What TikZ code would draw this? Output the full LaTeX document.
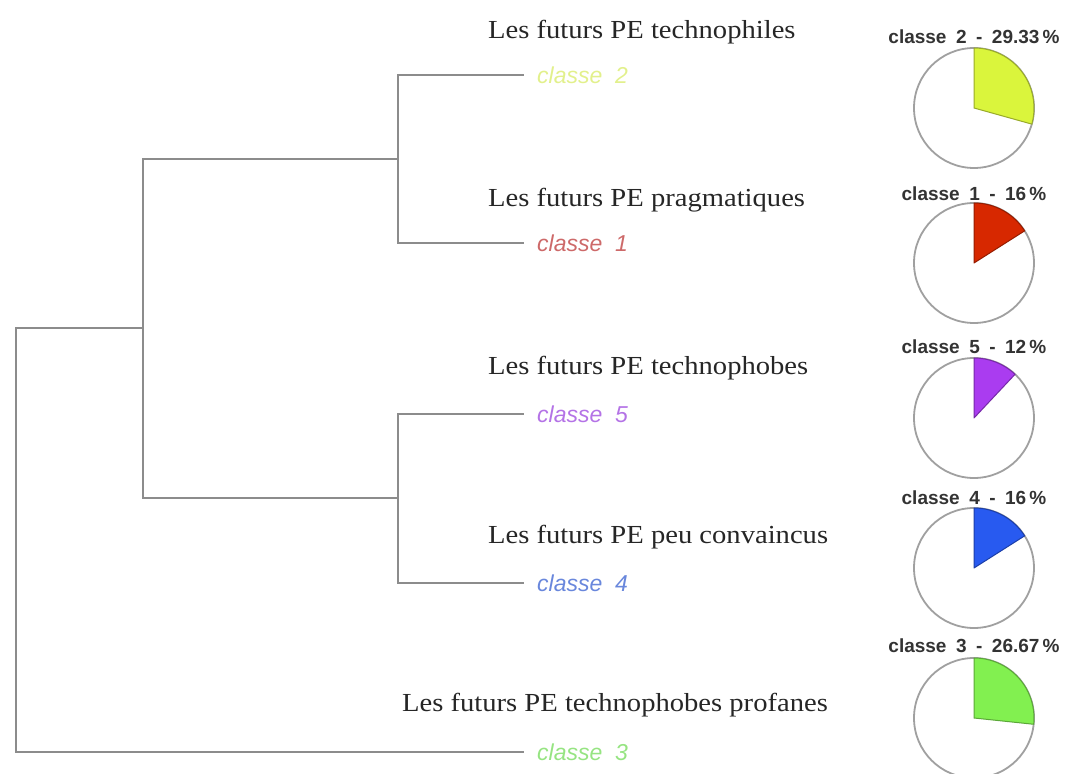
\documentclass[tikz,border=0pt]{standalone}
\usepackage{fontspec}
\setmainfont{Liberation Serif}
\newfontfamily\titlef[FakeStretch=1.1]{Liberation Serif}
\newfontfamily\arialf{Liberation Sans}
\definecolor{treegray}{RGB}{140,140,140}
\definecolor{piegray}{RGB}{160,160,160}
\definecolor{cA}{RGB}{218,245,60}
\definecolor{cAl}{RGB}{226,240,140}
\definecolor{cB}{RGB}{215,40,0}
\definecolor{cBl}{RGB}{205,105,105}
\definecolor{cC}{RGB}{170,60,240}
\definecolor{cCl}{RGB}{180,115,230}
\definecolor{cD}{RGB}{40,90,240}
\definecolor{cDl}{RGB}{105,135,220}
\definecolor{cE}{RGB}{130,240,80}
\definecolor{cEl}{RGB}{150,228,130}
\tikzset{
  branch/.style={draw=treegray, line width=2.6pt, line cap=rect},
  leaflabel/.style={anchor=west, inner sep=0pt, font=\arialf\itshape\fontsize{23}{25}\selectfont},
  titlelabel/.style={anchor=west, inner sep=0pt, font=\titlef\fontsize{26}{29}\selectfont, text=black!85},
  pielabel/.style={inner sep=0pt, font=\arialf\bfseries\fontsize{19}{21}\selectfont, text=black!80},
  pieout/.style={draw=piegray, line width=1.8pt, fill=white},
}
\newcommand{\piechart}[4]{% name, y center, percent, colour
  \coordinate (#1) at (974,#2);
  \draw[pieout] (#1) circle[radius=60];
  \filldraw[fill=#4, draw=#4!70!black, line width=1pt, line join=round]
    (#1) -- ++(90:60) arc[start angle=90, end angle={90-3.6*#3}, radius=60] -- cycle;
}
\begin{document}
\begin{tikzpicture}[x=1pt,y=1pt]
\useasboundingbox (0,0) rectangle (1069,774);
% leaf labels
\node[leaflabel, text=cAl] (l2) at (537,699) {classe\hspace{0.55em}2};
\node[leaflabel, text=cBl] (l1) at (537,531) {classe\hspace{0.55em}1};
\node[leaflabel, text=cCl] (l5) at (537,360) {classe\hspace{0.55em}5};
\node[leaflabel, text=cDl] (l4) at (537,191) {classe\hspace{0.55em}4};
\node[leaflabel, text=cEl] (l3) at (537,22) {classe\hspace{0.55em}3};
% leaf ends
\coordinate (e2) at (523,699);
\coordinate (e1) at (523,531);
\coordinate (e5) at (523,360);
\coordinate (e4) at (523,191);
\coordinate (e3) at (523,22);
% junctions
\coordinate (a2) at (398,699);
\coordinate (a1) at (398,531);
\coordinate (aM) at (398,615);
\coordinate (b5) at (398,360);
\coordinate (b4) at (398,191);
\coordinate (bM) at (398,276);
\coordinate (cT) at (143,615);
\coordinate (cB) at (143,276);
\coordinate (cM) at (143,446);
\coordinate (rT) at (16,446);
\coordinate (rB) at (16,22);
% tree
\draw[branch] (e2) -- (a2) -- (a1) -- (e1);
\draw[branch] (e5) -- (b5) -- (b4) -- (e4);
\draw[branch] (aM) -- (cT) -- (cB) -- (bM);
\draw[branch] (cM) -- (rT) -- (rB) -- (e3);
% titles
\node[titlelabel] (t2) at (488,742) {Les futurs PE technophiles};
\node[titlelabel] (t1) at (488,574) {Les futurs PE pragmatiques};
\node[titlelabel] (t5) at (488,406) {Les futurs PE technophobes};
\node[titlelabel] (t4) at (488,237) {Les futurs PE peu convaincus};
\node[titlelabel] (t3) at (402,69) {Les futurs PE technophobes profanes};
% pies
\piechart{p2}{666}{29.33}{cA}
\piechart{p1}{511}{16}{cB}
\piechart{p5}{356}{12}{cC}
\piechart{p4}{206}{16}{cD}
\piechart{p3}{56}{26.67}{cE}
\node[pielabel] (q2) at (974,737) {classe\hspace{0.5em}2\hspace{0.5em}-\hspace{0.5em}29.33\,\%};
\node[pielabel] (q1) at (974,580) {classe\hspace{0.5em}1\hspace{0.5em}-\hspace{0.5em}16\,\%};
\node[pielabel] (q5) at (974,427) {classe\hspace{0.5em}5\hspace{0.5em}-\hspace{0.5em}12\,\%};
\node[pielabel] (q4) at (974,276) {classe\hspace{0.5em}4\hspace{0.5em}-\hspace{0.5em}16\,\%};
\node[pielabel] (q3) at (974,128) {classe\hspace{0.5em}3\hspace{0.5em}-\hspace{0.5em}26.67\,\%};
\end{tikzpicture}
\end{document}
